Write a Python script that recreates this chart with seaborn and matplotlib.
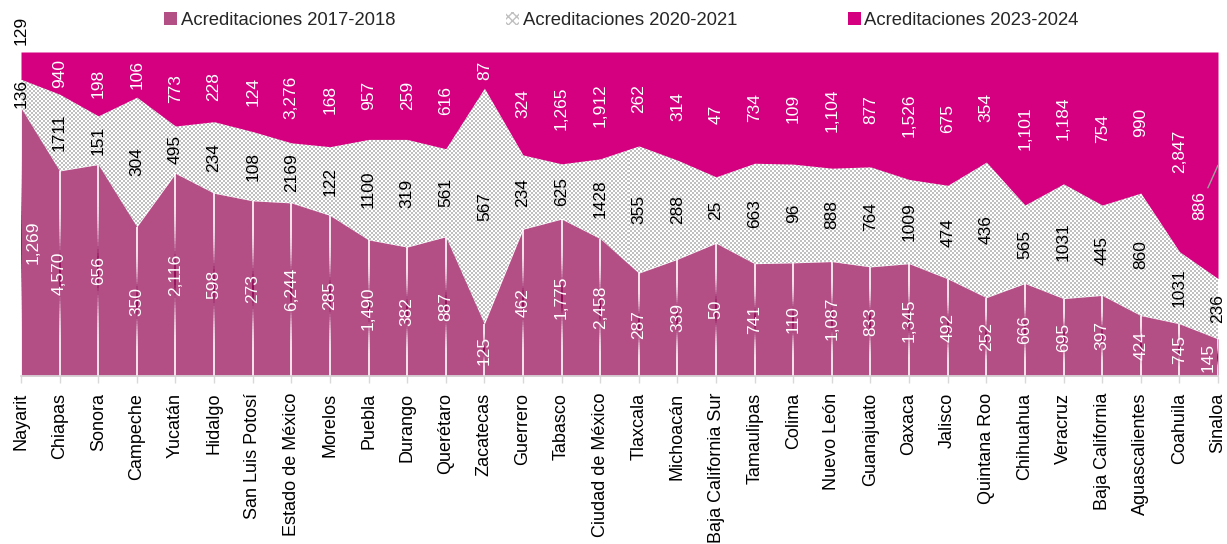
import numpy as np
import pandas as pd
import seaborn as sns
import matplotlib
matplotlib.use("Agg")
import matplotlib.pyplot as plt
from matplotlib.colors import ListedColormap, to_rgb
from matplotlib.collections import LineCollection
from matplotlib.patches import Patch


states = ["Nayarit", "Chiapas", "Sonora", "Campeche", "Yucatán", "Hidalgo",
          "San Luis Potosí", "Estado de México", "Morelos", "Puebla", "Durango",
          "Querétaro", "Zacatecas", "Guerrero", "Tabasco", "Ciudad de México",
          "Tlaxcala", "Michoacán", "Baja California Sur", "Tamaulipas", "Colima",
          "Nuevo León", "Guanajuato", "Oaxaca", "Jalisco", "Quintana Roo",
          "Chihuahua", "Veracruz", "Baja California", "Aguascalientes",
          "Coahuila", "Sinaloa"]

acr_2017_2018 = [1269, 4570, 656, 350, 2116, 598, 273, 6244, 285, 1490, 382,
                 887, 125, 462, 1775, 2458, 287, 339, 50, 741, 110, 1087, 833,
                 1345, 492, 252, 666, 695, 397, 424, 745, 145]
acr_2020_2021 = [136, 1711, 151, 304, 495, 234, 108, 2169, 122, 1100, 319,
                 561, 567, 234, 625, 1428, 355, 288, 25, 663, 96, 888, 764,
                 1009, 474, 436, 565, 1031, 445, 860, 1031, 236]
acr_2023_2024 = [129, 940, 198, 106, 773, 228, 124, 3276, 168, 957, 259,
                 616, 87, 324, 1265, 1912, 262, 314, 47, 734, 109, 1104, 877,
                 1526, 675, 354, 1101, 1184, 754, 990, 2847, 886]

series_names = ["Acreditaciones 2017-2018", "Acreditaciones 2020-2021",
                "Acreditaciones 2023-2024"]

df = pd.DataFrame({"estado": states,
                   "a1": acr_2017_2018,
                   "a2": acr_2020_2021,
                   "a3": acr_2023_2024})
total = df[["a1", "a2", "a3"]].sum(axis=1)
s1 = (df["a1"] / total).values
s12 = ((df["a1"] + df["a2"]) / total).values
x = np.arange(len(states))
last = len(states) - 1

c1 = "#b44f86"
c3 = "#d5007f"
grey_chk = "#c0c0c0"

sns.set_theme(style="white")
plt.rcParams["font.family"] = ["Liberation Sans", "DejaVu Sans"]

fig = plt.figure(figsize=(12.27, 5.44), dpi=100)
ax = fig.add_axes([21 / 1227, 1 - 376 / 544, 1197 / 1227, 324 / 544])

# stacked 100% areas
ax.fill_between(x, 0, s1, color=c1, lw=0, zorder=2)
mid = ax.fill_between(x, s1, s12, facecolor="none", lw=0, zorder=2)
checker = np.indices((162, 598)).sum(axis=0) % 2
img = ax.imshow(checker, cmap=ListedColormap(["white", grey_chk]),
                extent=[0, last, 0, 1], aspect="auto",
                interpolation="nearest", zorder=1)
img.set_clip_path(mid.get_paths()[0], ax.transData)
ax.fill_between(x, s12, 1, color=c3, lw=0, zorder=2)

# drop lines inside the first area (white -> dark -> white)
segs, cols = [], []
dark = np.array(to_rgb("#8c0050"))
white = np.ones(3)
n = 60
for i in x:
    ys = np.linspace(0, s1[i], n + 1)
    for k in range(n):
        f = (k + 0.5) / n
        d = np.sin(np.pi * f) ** 6
        segs.append([(i, ys[k]), (i, ys[k + 1])])
        cols.append(white * (1 - d) + dark * d)
ax.add_collection(LineCollection(segs, colors=cols, linewidths=1.2, zorder=3))

# value labels
fs = 12.5
for i in x:
    dx = 0
    if i == 0:
        dx = 9
    elif i == last:
        dx = -7
    ax.annotate(f"{acr_2017_2018[i]:,}", xy=(i, s1[i] / 2), xytext=(dx, 0),
                textcoords="offset points", rotation=90, ha="center",
                va="center", color="white", fontsize=fs, zorder=5,
                annotation_clip=False)
    ax.text(i, (s1[i] + s12[i]) / 2, f"{acr_2020_2021[i]}", rotation=90,
            ha="center", va="center", color="black", fontsize=fs, zorder=5,
            clip_on=False)
    if i == 0:
        ax.text(i, 1.068, f"{acr_2023_2024[i]:,}", rotation=90, ha="center",
                va="center", color="black", fontsize=fs, clip_on=False)
    elif i == last:
        ax.annotate(f"{acr_2023_2024[i]:,}", xy=(i, (s12[i] + 1) / 2),
                    xytext=(-13, -29), textcoords="offset points",
                    rotation=90, ha="center", va="center", color="white",
                    fontsize=fs, zorder=5,
                    arrowprops=dict(arrowstyle="-", color="#a0a0a0", lw=1,
                                    shrinkA=0, shrinkB=0))
    else:
        ax.text(i, (s12[i] + 1) / 2, f"{acr_2023_2024[i]:,}", rotation=90,
                ha="center", va="center", color="white", fontsize=fs, zorder=5)

ax.set_xlim(0, last)
ax.set_ylim(0, 1)
ax.set_xticks(x)
ax.set_xticklabels(states, rotation=90, fontsize=13, color="black")
ax.set_yticks([])
ax.tick_params(axis="x", bottom=True, length=5, width=1, color="#d9d9d9",
               direction="out", pad=7)
sns.despine(ax=ax, left=True, top=True, right=True)
ax.spines["bottom"].set_color("#d9d9d9")
ax.spines["bottom"].set_zorder(6)

handles = [Patch(facecolor=c1, edgecolor=c1, lw=0),
           Patch(facecolor="white", edgecolor=grey_chk, hatch="xxxx", lw=0),
           Patch(facecolor=c3, edgecolor=c3, lw=0)]
fig.legend(handles, series_names, ncol=3, loc="center",
           bbox_to_anchor=(0.5065, 0.963), frameon=False, fontsize=13.3,
           handlelength=0.7, handleheight=0.7, handletextpad=0.2,
           columnspacing=6.0)

fig.savefig("out.png", dpi=100)
